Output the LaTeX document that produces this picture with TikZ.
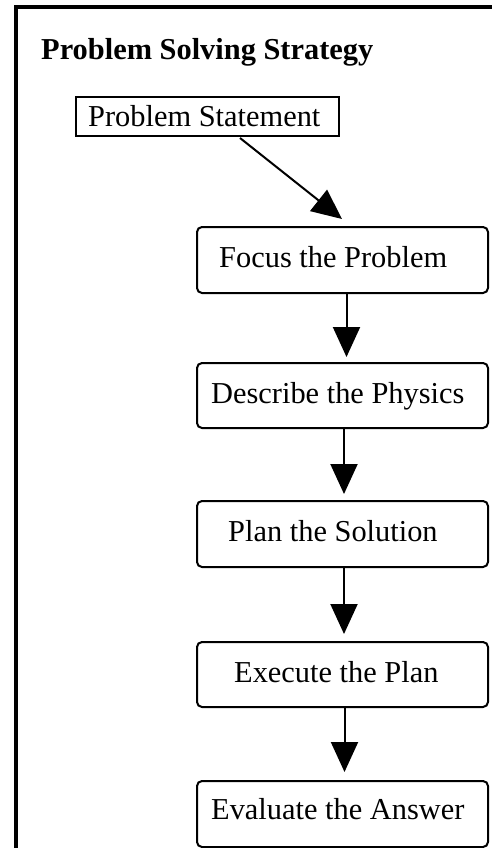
\documentclass[tikz,border=0pt]{standalone}
\usepackage{fontspec}
\setmainfont{Liberation Serif}
\usetikzlibrary{arrows.meta}
\begin{document}
\begin{tikzpicture}[x=1pt,y=-1pt,
  every node/.style={font=\fontsize{30.4}{36}\selectfont, inner sep=0pt},
  psbox/.style={draw, line width=2pt, minimum width=263pt, minimum height=39pt},
  stepbox/.style={draw, line width=2pt, rounded corners=5pt, minimum width=291pt},
  flow/.style={line width=2pt, -{Triangle[length=30pt,width=27pt]}},
  lbl/.style={anchor=base west}]
\useasboundingbox (0,0) rectangle (492,848);

% frame (top and left edges)
\draw[line width=4pt] (16,850) -- (16,7) -- (494,7);

% title
\node[lbl, font=\fontsize{30.4}{36}\selectfont\bfseries] (title) at (41,60) {Problem Solving Strategy};

% boxes
\node[psbox] (ps) at (207.5,116.5) {};
\node[lbl] (pst) at (88,126) {Problem Statement};

\node[stepbox, minimum height=66pt] (focus) at (342.5,260) {};
\node[lbl] (focust) at (219,267) {Focus the Problem};

\node[stepbox, minimum height=65pt] (describe) at (342.5,395.5) {};
\node[lbl] (describet) at (211,403) {Describe the Physics};

\node[stepbox, minimum height=66pt] (plan) at (342.5,534) {};
\node[lbl] (plant) at (228,541) {Plan the Solution};

\node[stepbox, minimum height=65pt] (execute) at (342.5,674.5) {};
\node[lbl] (executet) at (234,682) {Execute the Plan};

\node[stepbox, minimum height=66pt] (evaluate) at (342.5,814) {};
\node[lbl] (evaluatet) at (211,819) {Evaluate the Answer};

% connectors (tips stop a few points above the next box)
\draw[flow] ([xshift=32.5pt,yshift=-1pt]ps.south) -- ([xshift=-0.5pt,yshift=7pt]focus.north);
\draw[flow] ([xshift=4pt]focus.south) -- ([xshift=4pt,yshift=5pt]describe.north);
\draw[flow] ([xshift=1.5pt]describe.south) -- ([xshift=1.5pt,yshift=6pt]plan.north);
\draw[flow] ([xshift=1.5pt]plan.south) -- ([xshift=1.5pt,yshift=7pt]execute.north);
\draw[flow] ([xshift=2pt]execute.south) -- ([xshift=2pt,yshift=8pt]evaluate.north);
\end{tikzpicture}
\end{document}
